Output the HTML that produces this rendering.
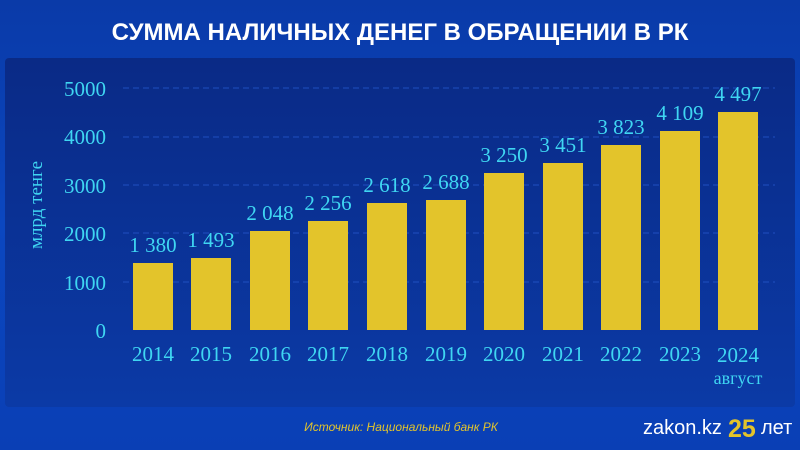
<!DOCTYPE html><html><head><meta charset="utf-8"><style>
body{margin:0;width:800px;height:450px;overflow:hidden;background:linear-gradient(180deg,#0a3aa8 0%,#0b47c0 50%,#0a3fb5 100%);font-family:"Liberation Sans",sans-serif}
</style></head><body>
<svg width="800" height="450" style="position:absolute;left:0;top:0">
<defs><linearGradient id="p" x1="0" y1="0" x2="0" y2="1"><stop offset="0" stop-color="#0a2a86"/><stop offset="1" stop-color="#0b3aa6"/></linearGradient></defs>
<rect x="5" y="58" width="790" height="349" rx="4" fill="url(#p)"/>
<text x="400" y="40" text-anchor="middle" fill="#fff" font-family="Liberation Sans" font-weight="bold" font-size="24">СУММА НАЛИЧНЫХ ДЕНЕГ В ОБРАЩЕНИИ В РК</text>
<g stroke="#1f4fc0" stroke-width="1" stroke-dasharray="6,4">
<line x1="123" x2="775" y1="88" y2="88"/><line x1="123" x2="775" y1="137" y2="137"/><line x1="123" x2="775" y1="185" y2="185"/><line x1="123" x2="775" y1="233" y2="233"/><line x1="123" x2="775" y1="282" y2="282"/></g>
<g font-family="Liberation Serif" font-size="21" fill="#3fd6f2" text-anchor="end">
<text x="106" y="96">5000</text><text x="106" y="144">4000</text><text x="106" y="193">3000</text><text x="106" y="241">2000</text><text x="106" y="290">1000</text><text x="106" y="338">0</text></g>
<text transform="translate(42,205) rotate(-90)" font-family="Liberation Serif" font-size="19" fill="#3fd6f2" text-anchor="middle">млрд тенге</text>
<g fill="#e3c42b">
<rect x="133" y="263" width="40" height="67"/><rect x="191" y="258" width="40" height="72"/><rect x="250" y="231" width="40" height="99"/><rect x="308" y="221" width="40" height="109"/><rect x="367" y="203" width="40" height="127"/><rect x="426" y="200" width="40" height="130"/><rect x="484" y="173" width="40" height="157"/><rect x="543" y="163" width="40" height="167"/><rect x="601" y="145" width="40" height="185"/><rect x="660" y="131" width="40" height="199"/><rect x="718" y="112" width="40" height="218"/></g>
<g font-family="Liberation Serif" font-size="21" fill="#3fd6f2" text-anchor="middle">
<text x="153" y="252">1 380</text><text x="211" y="247">1 493</text><text x="270" y="220">2 048</text><text x="328" y="210">2 256</text><text x="387" y="192">2 618</text><text x="446" y="189">2 688</text><text x="504" y="162">3 250</text><text x="563" y="152">3 451</text><text x="621" y="134">3 823</text><text x="680" y="120">4 109</text><text x="738" y="101">4 497</text>
<text x="153" y="361">2014</text><text x="211" y="361">2015</text><text x="270" y="361">2016</text><text x="328" y="361">2017</text><text x="387" y="361">2018</text><text x="446" y="361">2019</text><text x="504" y="361">2020</text><text x="563" y="361">2021</text><text x="621" y="361">2022</text><text x="680" y="361">2023</text><text x="738" y="362">2024</text>
<text x="738" y="384" font-size="18">август</text></g>
<text x="401" y="431" text-anchor="middle" font-style="italic" font-size="12" fill="#e3c42b">Источник: Национальный банк РК</text>
<text x="643" y="434" font-size="20" fill="#fff">zakon.kz</text>
<text x="728" y="437" font-size="25" font-weight="bold" fill="#e3c42b">25</text>
<text x="761" y="434" font-size="20" fill="#fff">лет</text>
</svg></body></html>
